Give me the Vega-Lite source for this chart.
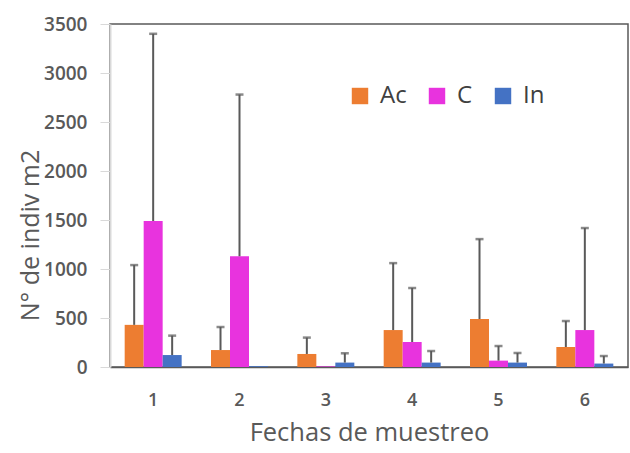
{
  "$schema": "https://vega.github.io/schema/vega-lite/v6.json",
  "width": 518,
  "height": 343,
  "autosize": {"type": "none"},
  "padding": {"left": 110, "top": 24, "right": 2, "bottom": 86},
  "background": "white",
  "config": {
    "font": "Open Sans",
    "view": {"stroke": "#595959", "strokeWidth": 1.5}
  },
  "data": {
    "values": [
      {"fecha": "1", "grupo": "Ac", "valor": 430, "sup": 1040},
      {"fecha": "1", "grupo": "C", "valor": 1490, "sup": 3400},
      {"fecha": "1", "grupo": "In", "valor": 122, "sup": 320},
      {"fecha": "2", "grupo": "Ac", "valor": 173, "sup": 408},
      {"fecha": "2", "grupo": "C", "valor": 1130, "sup": 2780},
      {"fecha": "2", "grupo": "In", "valor": 8, "sup": null},
      {"fecha": "3", "grupo": "Ac", "valor": 133, "sup": 300},
      {"fecha": "3", "grupo": "C", "valor": 6, "sup": null},
      {"fecha": "3", "grupo": "In", "valor": 45, "sup": 140},
      {"fecha": "4", "grupo": "Ac", "valor": 377, "sup": 1060},
      {"fecha": "4", "grupo": "C", "valor": 255, "sup": 806},
      {"fecha": "4", "grupo": "In", "valor": 45, "sup": 163},
      {"fecha": "5", "grupo": "Ac", "valor": 490, "sup": 1305},
      {"fecha": "5", "grupo": "C", "valor": 65, "sup": 214},
      {"fecha": "5", "grupo": "In", "valor": 45, "sup": 143},
      {"fecha": "6", "grupo": "Ac", "valor": 204, "sup": 469},
      {"fecha": "6", "grupo": "C", "valor": 377, "sup": 1418},
      {"fecha": "6", "grupo": "In", "valor": 35, "sup": 112}
    ]
  },
  "encoding": {
    "x": {
      "field": "fecha", "type": "nominal",
      "scale": {"paddingInner": 0.34, "paddingOuter": 0.17},
      "axis": {
        "title": "Fechas de muestreo", "titleFontSize": 25.5, "titleFontWeight": "normal", "titleColor": "#595959", "titlePadding": 11,
        "labelAngle": 0, "labelFontSize": 18, "labelFontWeight": 600, "labelColor": "#595959", "labelPadding": 24,
        "ticks": false, "domainColor": "#595959", "domainWidth": 1.5
      }
    },
    "xOffset": {"field": "grupo", "type": "nominal", "sort": ["Ac", "C", "In"], "scale": {"paddingInner": 0, "paddingOuter": 0}}
  },
  "layer": [
    {
      "mark": {"type": "bar"},
      "encoding": {
        "y": {
          "field": "valor", "type": "quantitative",
          "scale": {"domain": [0, 3500], "nice": false},
          "axis": {
            "title": "N° de indiv m2", "titleFontSize": 25, "titleFontWeight": "normal", "titleColor": "#595959", "titlePadding": 0, "titleY": 211,
            "values": [0, 500, 1000, 1500, 2000, 2500, 3000, 3500], "format": "d",
            "grid": false, "labelFontSize": 19, "labelFontWeight": 600, "labelColor": "#595959", "labelPadding": 13,
            "tickColor": "#d9d9d9", "tickSize": 10, "domainColor": "#d9d9d9", "domainWidth": 2
          }
        },
        "color": {
          "field": "grupo", "type": "nominal", "sort": ["Ac", "C", "In"],
          "scale": {"domain": ["Ac", "C", "In"], "range": ["#ED7D31", "#E833DE", "#4472C4"]},
          "legend": {
            "title": null, "orient": "none", "legendX": 238, "legendY": 60, "direction": "horizontal",
            "symbolType": "square", "symbolSize": 270, "symbolStrokeWidth": 0, "labelFontSize": 24, "labelColor": "#404040",
            "columnPadding": 18, "labelOffset": 8
          }
        }
      }
    },
    {
      "transform": [{"filter": "datum.sup != null"}],
      "mark": {"type": "rule", "color": "#595959", "strokeWidth": 2},
      "encoding": {
        "y": {"field": "valor", "type": "quantitative"},
        "y2": {"field": "sup"}
      }
    },
    {
      "transform": [{"filter": "datum.sup != null"}],
      "mark": {"type": "tick", "color": "#595959", "thickness": 2.5, "size": 8},
      "encoding": {
        "y": {"field": "sup", "type": "quantitative"}
      }
    }
  ]
}
